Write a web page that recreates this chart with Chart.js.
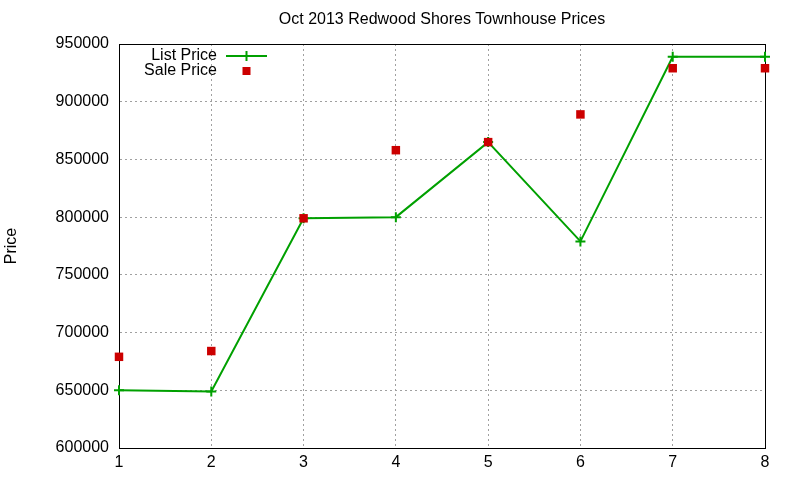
<!DOCTYPE html>
<html>
<head>
<meta charset="utf-8">
<script src="https://cdn.jsdelivr.net/npm/chart.js@4"></script>
<style>
  html, body { margin: 0; padding: 0; background: #fff; }
  #wrap { width: 800px; height: 480px; }
</style>
</head>
<body>
<div id="wrap"><canvas id="chart"></canvas></div>
<script>
// house index 1..8
var houses = [1, 2, 3, 4, 5, 6, 7, 8];
var listPrice = [650000, 649000, 799000, 800000, 865000, 779000, 939000, 939000];
var salePrice = [679000, 684000, 799000, 858000, 865000, 889000, 929000, 929000];
var seriesNames = ['List Price', 'Sale Price'];
var chartTitle = 'Oct 2013 Redwood Shores Townhouse Prices';

var FONT = '"Liberation Sans", Arial, sans-serif';

function pts(vals) {
    return houses.map(function (h, i) { return {x: h, y: vals[i]}; });
}

// gnuplot-like title (centred on plot area) and key inside top-left
var keyPlugin = {
    id: 'gnukey',
    afterDraw: function (chart) {
        var ctx = chart.ctx, a = chart.chartArea;
        ctx.save();
        ctx.fillStyle = '#000';
        ctx.textBaseline = 'middle';
        ctx.font = '16px ' + FONT;
        ctx.textAlign = 'center';
        ctx.fillText(chartTitle, (a.left + a.right) / 2, 20);

        ctx.textAlign = 'right';
        var tx = a.left + 98, sx = a.left + 107, ex = a.left + 148;
        var y1 = a.top + 12, y2 = a.top + 27;
        ctx.fillText(seriesNames[0], tx, y1);
        ctx.fillText(seriesNames[1], tx, y2);
        ctx.strokeStyle = '#00a000';
        ctx.lineWidth = 2;
        ctx.beginPath();
        ctx.moveTo(sx, y1); ctx.lineTo(ex, y1);
        var cx = (sx + ex) / 2;
        ctx.moveTo(cx, y1 - 5); ctx.lineTo(cx, y1 + 5);
        ctx.stroke();
        ctx.fillStyle = '#cc0000';
        ctx.fillRect(cx - 4, y2 - 4, 8, 8);
        ctx.restore();
    }
};

var gridStyle = {
    color: '#a0a0a0',
    lineWidth: 1,
    drawTicks: false
};

new Chart('chart', {
    type: 'line',
    data: {
        datasets: [{
            label: seriesNames[0],
            data: pts(listPrice),
            borderColor: '#00a000',
            backgroundColor: '#00a000',
            borderWidth: 2,
            pointStyle: 'cross',
            pointRadius: 5,
            pointBorderWidth: 2,
            tension: 0,
            clip: false,
            order: 2
        }, {
            label: seriesNames[1],
            data: pts(salePrice),
            showLine: false,
            borderColor: '#cc0000',
            backgroundColor: '#cc0000',
            pointStyle: 'rect',
            pointRadius: 6,
            pointBorderWidth: 0,
            clip: false,
            order: 1
        }]
    },
    options: {
        responsive: true,
        maintainAspectRatio: false,
        animation: false,
        layout: { padding: { left: 0, right: 35, top: 44, bottom: 0 } },
        plugins: {
            legend: { display: false },
            tooltip: { enabled: false },
            title: { display: false }
        },
        scales: {
            x: {
                type: 'linear',
                min: 1, max: 8,
                ticks: {
                    stepSize: 1,
                    color: '#000',
                    padding: 5,
                    font: { family: FONT, size: 16 }
                },
                grid: gridStyle,
                border: { display: true, color: '#000', width: 1, dash: [2, 3] },
                afterFit: function (s) { s.height = 32; }
            },
            y: {
                min: 600000, max: 950000,
                ticks: {
                    stepSize: 50000,
                    color: '#000',
                    padding: 10,
                    font: { family: FONT, size: 16 },
                    callback: function (v) { return String(v); }
                },
                grid: gridStyle,
                border: { display: true, color: '#000', width: 1, dash: [2, 3] },
                title: {
                    display: true,
                    text: 'Price',
                    color: '#000',
                    font: { family: FONT, size: 16 },
                    padding: { top: 2, bottom: 0 }
                },
                afterFit: function (s) { s.width = 119; }
            }
        }
    },
    plugins: [keyPlugin, {
        // solid black frame like gnuplot
        id: 'frame',
        beforeDatasetsDraw: function (chart) {
            var ctx = chart.ctx, a = chart.chartArea;
            ctx.save();
            ctx.strokeStyle = '#000';
            ctx.lineWidth = 1;
            ctx.strokeRect(a.left + 0.5, a.top + 0.5, a.right - a.left, a.bottom - a.top);
            ctx.restore();
        }
    }]
});
</script>
</body>
</html>
